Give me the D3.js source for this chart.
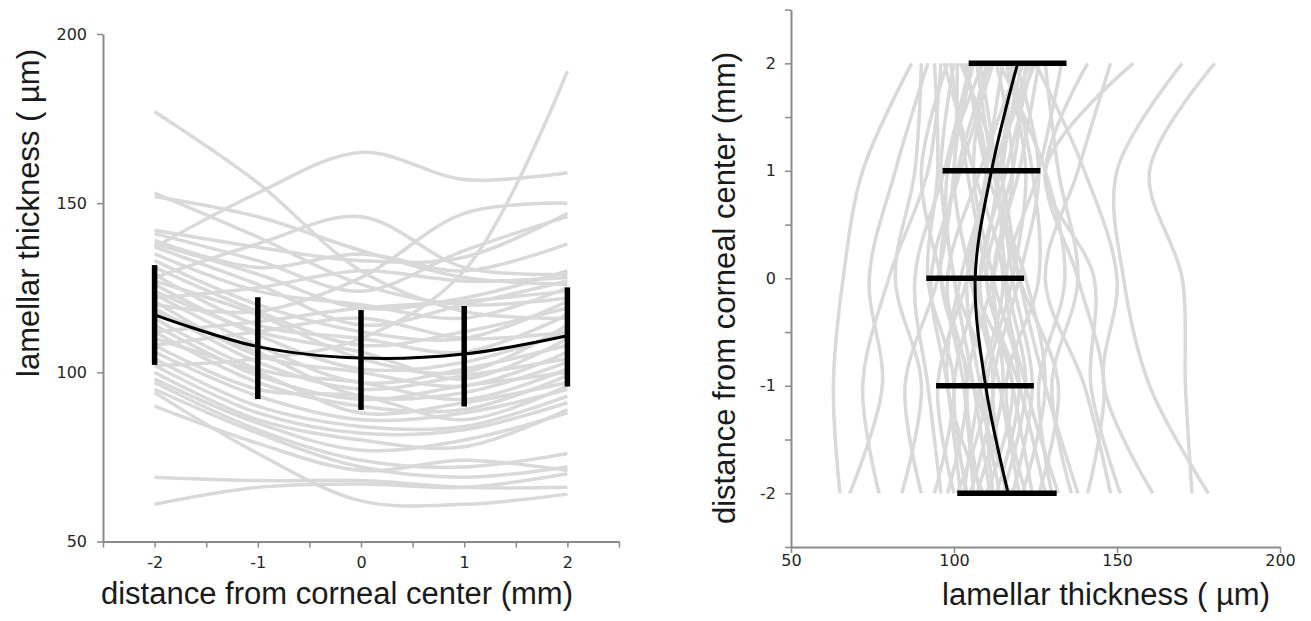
<!DOCTYPE html>
<html>
<head>
<meta charset="utf-8">
<script src="https://cdn.jsdelivr.net/npm/d3@7"></script>
<style>
  body { margin: 0; background: #fff; }
  svg { display: block; }
</style>
</head>
<body>
<svg id="chart"></svg>
<script>
// distance from corneal center (mm) where each eye was measured
const positions = [-2, -1, 0, 1, 2];

// left panel: thickness (µm) per eye at positions -2..2
const leftSubjects = [
  [177, 156, 130, 118, 116],
  [137, 153, 165, 157, 159],
  [102, 104, 110, 130, 189],
  [120, 118, 128, 147, 150],
  [153, 140, 126, 120, 122],
  [152, 146, 136, 128, 126],
  [128, 138, 146, 131, 129],
  [142, 137, 133, 134, 147],
  [141, 133, 124, 136, 146],
  [139, 131, 135, 130, 138],
  [138, 129, 119, 122, 130],
  [137, 126, 114, 120, 127],
  [135, 124, 120, 116, 125],
  [133, 120, 112, 110, 121],
  [131, 118, 108, 112, 119],
  [129, 114, 110, 106, 117],
  [127, 117, 104, 100, 114],
  [126, 111, 101, 103, 112],
  [124, 112, 106, 98, 110],
  [123, 108, 97, 101, 108],
  [121, 105, 100, 96, 106],
  [119, 103, 95, 99, 104],
  [118, 106, 93, 94, 103],
  [116, 101, 97, 92, 101],
  [114, 99, 92, 96, 100],
  [112, 97, 90, 89, 99],
  [110, 100, 88, 91, 97],
  [108, 95, 93, 86, 96],
  [106, 93, 86, 88, 95],
  [104, 90, 84, 84, 93],
  [102, 88, 82, 83, 91],
  [100, 86, 80, 78, 89],
  [98, 85, 77, 80, 88],
  [97, 83, 74, 72, 76],
  [95, 82, 72, 69, 72],
  [90, 79, 71, 74, 71],
  [94, 76, 62, 61, 64],
  [69, 68, 68, 66, 66],
  [61, 66, 67, 66, 70],
  [122, 125, 130, 127, 128],
  [112, 115, 119, 121, 124],
  [108, 112, 116, 110, 112]
];
const leftMean = [117, 107.6, 104.2, 105.4, 110.8];
const leftLow = [102.2, 92.1, 88.9, 89.9, 95.8];
const leftHigh = [131.7, 122.2, 118.4, 119.6, 125.1];

// right panel: thickness (µm) per eye at positions -2..2
const rightSubjects = [
  [65, 63, 66, 72, 87],
  [68, 78, 74, 82, 92],
  [77, 72, 80, 92, 96],
  [84, 90, 82, 88, 90],
  [90, 85, 95, 100, 101],
  [94, 100, 92, 95, 94],
  [96, 92, 88, 97, 105],
  [98, 104, 96, 90, 98],
  [100, 95, 104, 110, 103],
  [101, 110, 100, 98, 109],
  [102, 98, 93, 102, 112],
  [103, 108, 115, 106, 97],
  [104, 100, 108, 114, 118],
  [105, 112, 105, 100, 106],
  [106, 103, 98, 108, 120],
  [107, 115, 110, 104, 99],
  [108, 104, 112, 118, 113],
  [109, 98, 102, 112, 123],
  [110, 118, 106, 110, 115],
  [111, 106, 100, 96, 100],
  [112, 110, 118, 122, 116],
  [113, 120, 112, 106, 110],
  [114, 108, 104, 112, 125],
  [115, 122, 116, 113, 108],
  [116, 112, 120, 126, 119],
  [117, 106, 96, 101, 111],
  [118, 124, 118, 115, 121],
  [120, 114, 108, 116, 124],
  [121, 128, 122, 110, 104],
  [122, 116, 126, 124, 117],
  [124, 118, 112, 120, 126],
  [126, 132, 120, 112, 107],
  [128, 120, 110, 118, 122],
  [130, 126, 134, 128, 114],
  [132, 122, 116, 126, 133],
  [136, 130, 138, 132, 128],
  [138, 128, 120, 114, 102],
  [141, 146, 138, 128, 141],
  [148, 140, 128, 138, 148],
  [151, 142, 143, 128, 155],
  [161, 146, 150, 140, 125],
  [173, 171, 170, 160, 180],
  [178, 160, 152, 150, 170]
];
const rightMean = [116.6, 109.7, 106.5, 111.5, 119.5];
const rightLow = [101, 94.5, 91.5, 96.5, 104.5];
const rightHigh = [131.5, 124.5, 121.5, 126.5, 134.5];

const thicknessTicks = [50, 100, 150, 200];
const distanceTicks = [-2.5, -2, -1.5, -1, -0.5, 0, 0.5, 1, 1.5, 2, 2.5];

const W = 1311, H = 621;
const svg = d3.select("#chart").attr("width", W).attr("height", H);

const tickFont = "'DejaVu Sans', Verdana, sans-serif";
const titleFont = "'Liberation Sans', Arial, sans-serif";
const grey = "#d9d9d9";
const axisColor = "#8a8a8a";

function styleAxis(g) {
  g.select(".domain").attr("stroke", axisColor).attr("stroke-width", 2);
  g.selectAll(".tick line").attr("stroke", axisColor).attr("stroke-width", 1.5);
  g.selectAll(".tick text")
    .attr("font-family", tickFont)
    .attr("font-size", 16)
    .attr("fill", "#262626");
}

const intLabel = (d) => (Number.isInteger(d) ? d : "");

// ---------- left panel ----------
const xL = d3.scaleLinear().domain([-2.5, 2.5]).range([103, 619]);
const yL = d3.scaleLinear().domain([50, 200]).range([541.5, 34]);

const left = svg.append("g");

const lineL = d3.line()
  .x((d, i) => xL(positions[i]))
  .y((d) => yL(d))
  .curve(d3.curveCatmullRom);

left.append("g")
  .selectAll("path")
  .data(leftSubjects)
  .join("path")
  .attr("d", lineL)
  .attr("fill", "none")
  .attr("stroke", grey)
  .attr("stroke-width", 3.5);

left.append("path")
  .attr("d", lineL(leftMean))
  .attr("fill", "none")
  .attr("stroke", "#000")
  .attr("stroke-width", 3);

left.append("g")
  .selectAll("line")
  .data(positions)
  .join("line")
  .attr("x1", (d) => xL(d))
  .attr("x2", (d) => xL(d))
  .attr("y1", (d, i) => yL(leftLow[i]))
  .attr("y2", (d, i) => yL(leftHigh[i]))
  .attr("stroke", "#000")
  .attr("stroke-width", 5.5);

left.append("g")
  .attr("transform", `translate(0,${yL(50)})`)
  .call(d3.axisBottom(xL).tickValues(distanceTicks).tickFormat(intLabel).tickSize(6).tickSizeOuter(0).tickPadding(9))
  .call(styleAxis);

left.append("g")
  .attr("transform", `translate(${xL(-2.5)},0)`)
  .call(d3.axisLeft(yL).tickValues(thicknessTicks).tickSize(6).tickSizeOuter(0).tickPadding(10))
  .call(styleAxis);

left.append("text")
  .attr("x", 337)
  .attr("y", 604)
  .attr("text-anchor", "middle")
  .attr("font-family", titleFont)
  .attr("font-size", 31)
  .attr("fill", "#1a1a1a")
  .text("distance from corneal center (mm)");

left.append("text")
  .attr("transform", "translate(39,213) rotate(-90)")
  .attr("text-anchor", "middle")
  .attr("font-family", titleFont)
  .attr("font-size", 31)
  .attr("fill", "#1a1a1a")
  .text("lamellar thickness ( µm)");

// ---------- right panel ----------
const xR = d3.scaleLinear().domain([50, 200]).range([791, 1280]);
const yR = d3.scaleLinear().domain([-2.5, 2.5]).range([547, 9.6]);

const right = svg.append("g");

const lineR = d3.line()
  .x((d) => xR(d))
  .y((d, i) => yR(positions[i]))
  .curve(d3.curveCatmullRom);

right.append("g")
  .selectAll("path")
  .data(rightSubjects)
  .join("path")
  .attr("d", lineR)
  .attr("fill", "none")
  .attr("stroke", grey)
  .attr("stroke-width", 3.5);

right.append("path")
  .attr("d", lineR(rightMean))
  .attr("fill", "none")
  .attr("stroke", "#000")
  .attr("stroke-width", 3);

right.append("g")
  .selectAll("line")
  .data(positions)
  .join("line")
  .attr("y1", (d) => yR(d))
  .attr("y2", (d) => yR(d))
  .attr("x1", (d, i) => xR(rightLow[i]))
  .attr("x2", (d, i) => xR(rightHigh[i]))
  .attr("stroke", "#000")
  .attr("stroke-width", 5.5);

right.append("g")
  .attr("transform", `translate(0,${yR(-2.5)})`)
  .call(d3.axisBottom(xR).tickValues(thicknessTicks).tickSize(6).tickSizeOuter(0).tickPadding(2))
  .call(styleAxis);

right.append("g")
  .attr("transform", `translate(${xR(50)},0)`)
  .call(d3.axisLeft(yR).tickValues(distanceTicks).tickFormat(intLabel).tickSize(6).tickSizeOuter(0).tickPadding(9))
  .call(styleAxis);

right.append("text")
  .attr("x", 1106)
  .attr("y", 605)
  .attr("text-anchor", "middle")
  .attr("font-family", titleFont)
  .attr("font-size", 31)
  .attr("fill", "#1a1a1a")
  .text("lamellar thickness ( µm)");

right.append("text")
  .attr("transform", "translate(735,288) rotate(-90)")
  .attr("text-anchor", "middle")
  .attr("font-family", titleFont)
  .attr("font-size", 31)
  .attr("fill", "#1a1a1a")
  .text("distance from corneal center (mm)");
</script>
</body>
</html>
